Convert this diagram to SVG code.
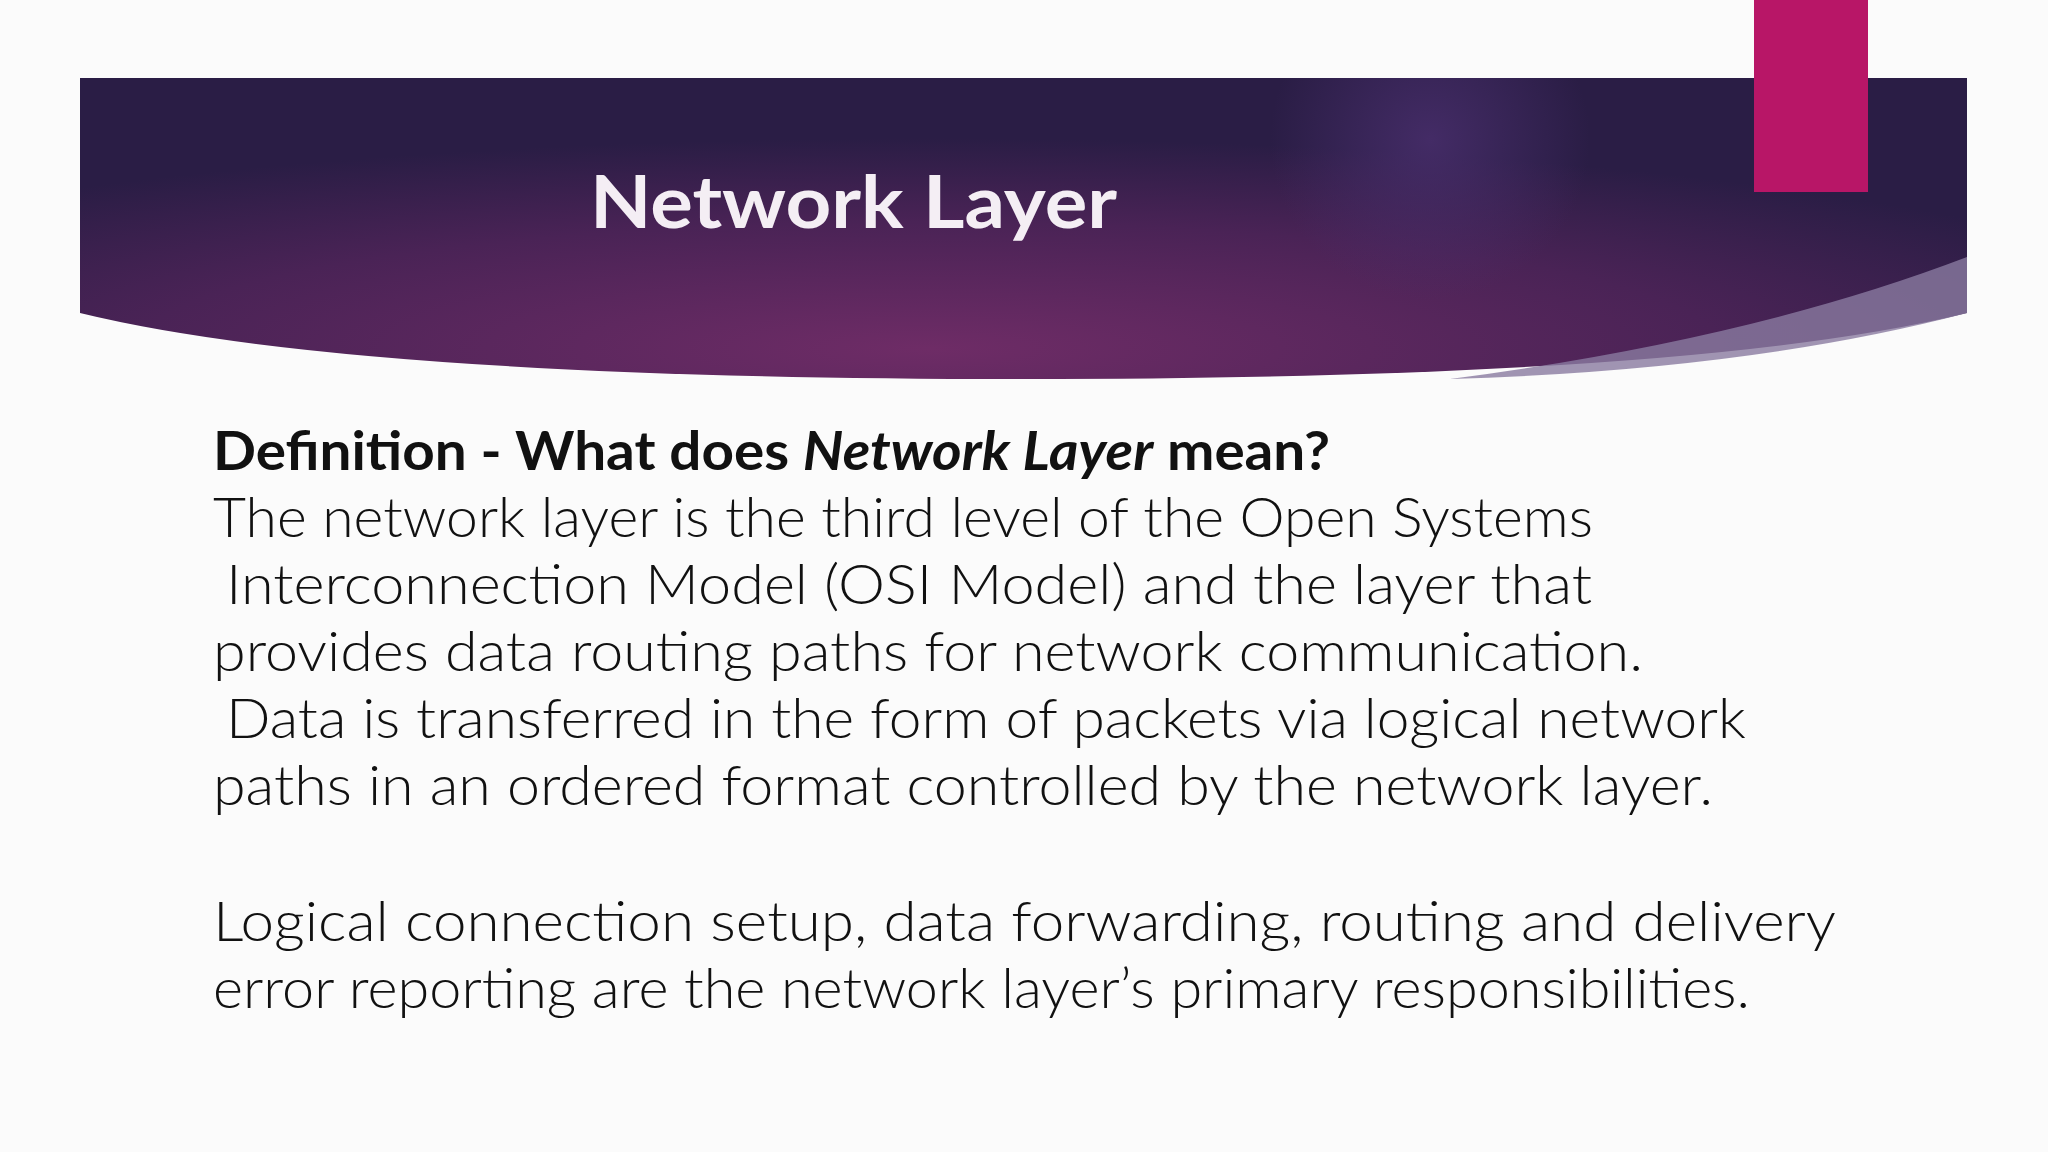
<svg xmlns="http://www.w3.org/2000/svg" width="2048" height="1152" viewBox="0 0 2048 1152">
<defs>
<radialGradient id="g" cx="0.45" cy="0.9" r="0.7">
<stop offset="0" stop-color="#6e2c66"/>
<stop offset="0.6" stop-color="#4a2356"/>
<stop offset="1" stop-color="#2a1d45"/>
</radialGradient>
<radialGradient id="g2" cx="1430" cy="140" r="160" gradientUnits="userSpaceOnUse">
<stop offset="0" stop-color="#4a2f6e" stop-opacity="0.8"/>
<stop offset="1" stop-color="#4a2f6e" stop-opacity="0"/>
</radialGradient>
<style>
.b{font-family:"Lato","Open Sans",sans-serif;font-size:56px;fill:#111;font-weight:300}
</style>
</defs>
<rect width="2048" height="1152" fill="#fbfbfb"/>
<g id="banner">
<path d="M80 78 H1967 V313 Q1700 379 1024 379 Q350 379 80 313 Z" fill="url(#g)"/>
<path d="M80 78 H1967 V313 Q1700 379 1024 379 Q350 379 80 313 Z" fill="url(#g2)"/>
<path d="M1967 257 V313 Q1750 370 1450 379 Q1750 340 1967 257 Z" fill="#8a7aa0" opacity="0.8"/>
</g>
<g id="accent"><rect x="1754" y="0" width="114" height="192" fill="#b81667"/></g>
<g id="title"><text x="590" y="228" font-family="Lato,'Open Sans',sans-serif" font-weight="bold" font-size="72" fill="#f4eef4" textLength="527" lengthAdjust="spacingAndGlyphs">Network Layer</text></g>
<g id="content">
<text x="213" y="470" font-family="Lato,'Open Sans',sans-serif" font-weight="bold" font-size="54" fill="#111" textLength="1117" lengthAdjust="spacingAndGlyphs">Definition - What does <tspan font-style="italic">Network Layer</tspan> mean?</text>
<text class="b" x="213" y="537" textLength="1380" lengthAdjust="spacingAndGlyphs">The network layer is the third level of the Open Systems</text>
<text class="b" x="226" y="604" textLength="1366" lengthAdjust="spacingAndGlyphs">Interconnection Model (OSI Model) and the layer that</text>
<text class="b" x="213" y="671" textLength="1430" lengthAdjust="spacingAndGlyphs">provides data routing paths for network communication.</text>
<text class="b" x="226" y="738" textLength="1520" lengthAdjust="spacingAndGlyphs">Data is transferred in the form of packets via logical network</text>
<text class="b" x="213" y="805" textLength="1500" lengthAdjust="spacingAndGlyphs">paths in an ordered format controlled by the network layer.</text>
<text class="b" x="213" y="941" textLength="1623" lengthAdjust="spacingAndGlyphs">Logical connection setup, data forwarding, routing and delivery</text>
<text class="b" x="213" y="1008" textLength="1537" lengthAdjust="spacingAndGlyphs">error reporting are the network layer’s primary responsibilities.</text>
</g>
</svg>
